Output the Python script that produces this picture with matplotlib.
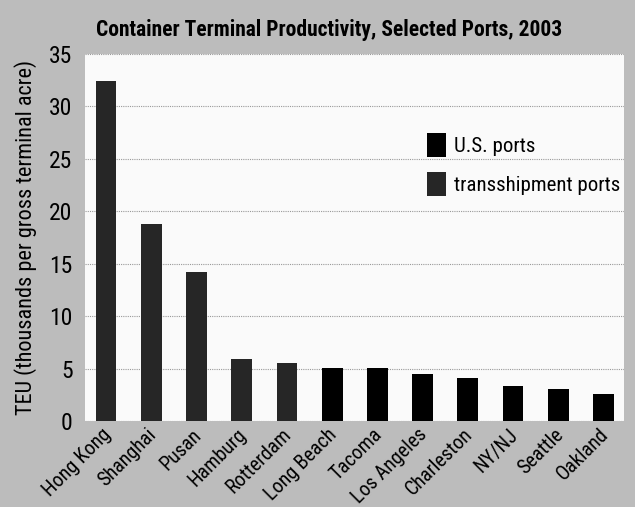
import matplotlib
matplotlib.use("Agg")
import matplotlib.pyplot as plt
import matplotlib.transforms as mtransforms
from matplotlib.patches import Patch
from matplotlib import font_manager

ports = ["Hong Kong", "Shanghai", "Pusan", "Hamburg", "Rotterdam", "Long Beach",
         "Tacoma", "Los Angeles", "Charleston", "NY/NJ", "Seattle", "Oakland"]
teu = [32.4, 18.8, 14.2, 5.9, 5.55, 5.05, 5.05, 4.5, 4.1, 3.35, 3.1, 2.6]
port_type = ["transshipment", "transshipment", "transshipment", "transshipment", "transshipment",
             "us", "us", "us", "us", "us", "us", "us"]
yticks = [0, 5, 10, 15, 20, 25, 30, 35]

names = {f.name for f in font_manager.fontManager.ttflist}
fam = "DejaVu Sans"
for cand in ["Roboto Condensed", "Archivo Narrow", "PT Sans Narrow", "Barlow Condensed",
             "Liberation Sans Narrow"]:
    if cand in names:
        fam = cand
        break
plt.rcParams["font.family"] = [fam, "DejaVu Sans"]

colors = {"us": "#000000", "transshipment": "#262626"}

fig = plt.figure(figsize=(6.35, 5.07), dpi=100)
fig.patch.set_facecolor("#bcbcbc")
ax = fig.add_axes([0.134, 0.1696, 0.849, 0.724])
ax.set_facecolor("#fafafa")

x = range(len(ports))
ax.bar(x, teu, width=0.46, color=[colors[t] for t in port_type], zorder=3)

ax.set_ylim(0, 35)
ax.set_xlim(-0.464, len(ports) - 0.543)
ax.set_yticks(yticks)
ax.set_yticklabels([str(v) for v in yticks], fontsize=17)
ax.set_xticks(list(x))
ax.set_xticklabels(ports, rotation=45, ha="right", rotation_mode="anchor", fontsize=14.5)
ax.tick_params(axis="y", length=0, pad=9)
ax.tick_params(axis="x", length=0, pad=3)
shift = mtransforms.ScaledTranslation(-5 / 100, 0, fig.dpi_scale_trans)
for lab in ax.get_xticklabels():
    lab.set_transform(lab.get_transform() + shift)
ax.yaxis.grid(True, linestyle=(0, (1, 1)), color="#999999", linewidth=0.8, zorder=0)
for s in ax.spines.values():
    s.set_visible(False)

ax.set_ylabel("TEU (thousands per gross terminal acre)", fontsize=16, labelpad=9)
fig.suptitle("Container Terminal Productivity, Selected Ports, 2003",
             x=0.518, y=0.962, fontsize=15.5, fontweight="bold")

handles = [Patch(facecolor=colors["us"], label="U.S. ports"),
           Patch(facecolor=colors["transshipment"], label="transshipment ports")]
leg = ax.legend(handles=handles, loc="upper left", bbox_to_anchor=(0.6, 0.835),
                frameon=False, fontsize=15, handlelength=0.9, handleheight=1.4,
                handletextpad=0.4, labelspacing=0.7)

fig.savefig("out.png", dpi=100, facecolor=fig.get_facecolor())
